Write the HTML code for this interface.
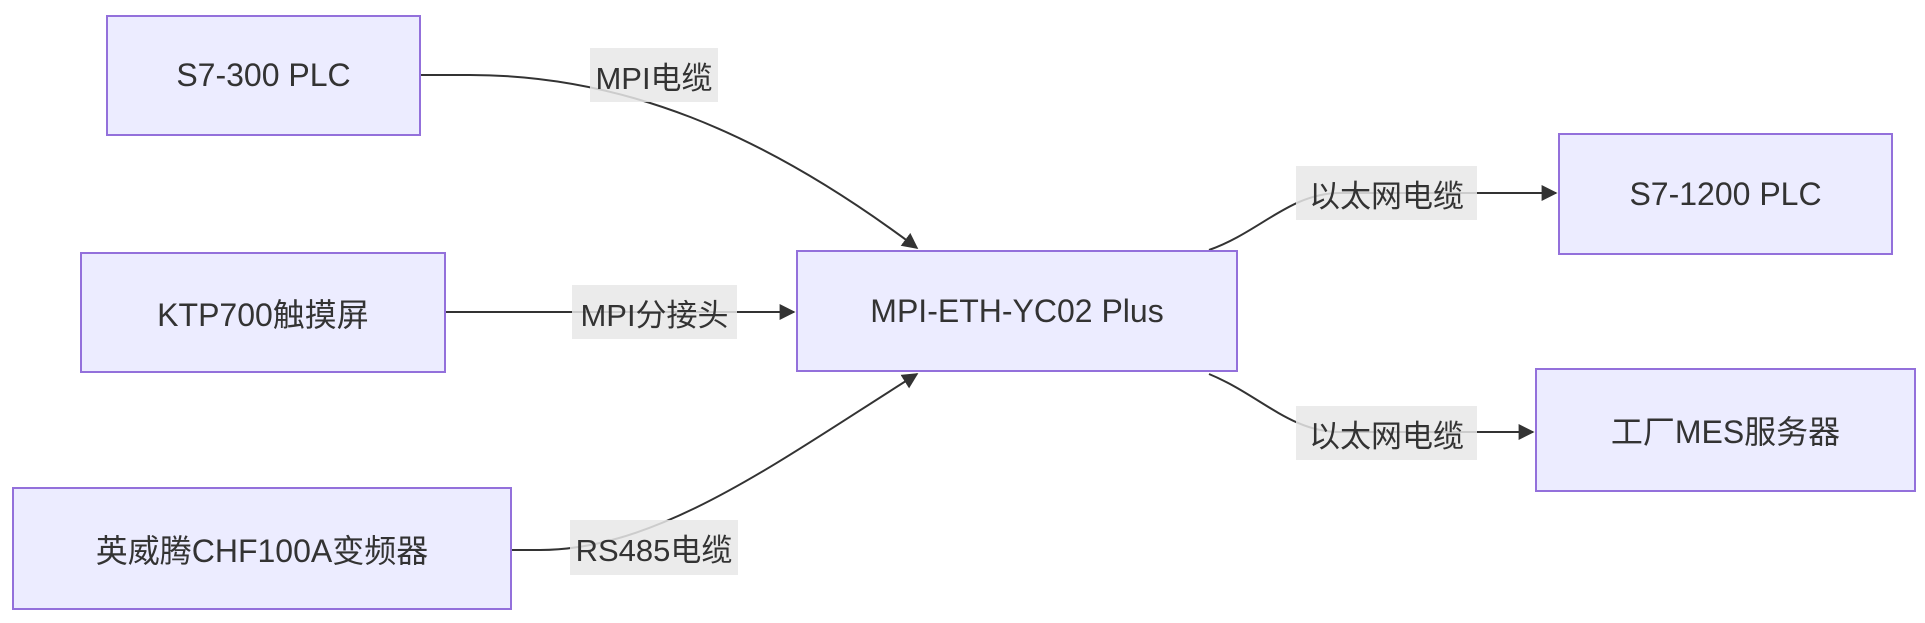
<!DOCTYPE html>
<html><head><meta charset="utf-8"><style>
html,body{margin:0;padding:0;background:#fff;}
body{width:1925px;height:623px;position:relative;overflow:hidden;font-family:"Liberation Sans","Noto Sans CJK SC",sans-serif;}
.n{position:absolute;box-sizing:border-box;background:#ECECFF;border:2px solid #9370DB;display:flex;align-items:center;justify-content:center;font-size:32px;color:#333;}
.l{position:absolute;background:rgba(232,232,232,0.85);display:flex;align-items:center;justify-content:center;font-size:31px;color:#333;white-space:nowrap;}
svg{position:absolute;left:0;top:0;}
</style></head><body>
<svg width="1925" height="623">
<defs><marker id="a" viewBox="0 0 10 10" refX="9" refY="5" markerWidth="8" markerHeight="8" orient="auto"><path d="M0,0L10,5L0,10z" fill="#333"/></marker></defs>
<g fill="none" stroke="#333" stroke-width="2">
<path d="M421,75 L470,75 C620,75 760,130 917,248" marker-end="url(#a)"/>
<path d="M446,312 L794,312" marker-end="url(#a)"/>
<path d="M512,550 L540,550 C660,550 780,460 917,374" marker-end="url(#a)"/>
<path d="M1209,250 C1260,232 1290,193 1340,193 L1556,193" marker-end="url(#a)"/>
<path d="M1209,374 C1260,395 1290,432 1340,432 L1533,432" marker-end="url(#a)"/>
</g></svg>
<div class="n" style="left:106px;top:15px;width:315px;height:121px">S7-300 PLC</div>
<div class="n" style="left:80px;top:252px;width:366px;height:121px">KTP700触摸屏</div>
<div class="n" style="left:12px;top:487px;width:500px;height:123px">英威腾CHF100A变频器</div>
<div class="n" style="left:796px;top:250px;width:442px;height:122px">MPI-ETH-YC02 Plus</div>
<div class="n" style="left:1558px;top:133px;width:335px;height:122px">S7-1200 PLC</div>
<div class="n" style="left:1535px;top:368px;width:381px;height:124px">工厂MES服务器</div>
<div class="l" style="left:590px;top:48px;width:128px;height:54px">MPI电缆</div>
<div class="l" style="left:572px;top:285px;width:165px;height:54px">MPI分接头</div>
<div class="l" style="left:570px;top:520px;width:168px;height:55px">RS485电缆</div>
<div class="l" style="left:1296px;top:166px;width:181px;height:54px">以太网电缆</div>
<div class="l" style="left:1296px;top:406px;width:181px;height:54px">以太网电缆</div>
</body></html>
